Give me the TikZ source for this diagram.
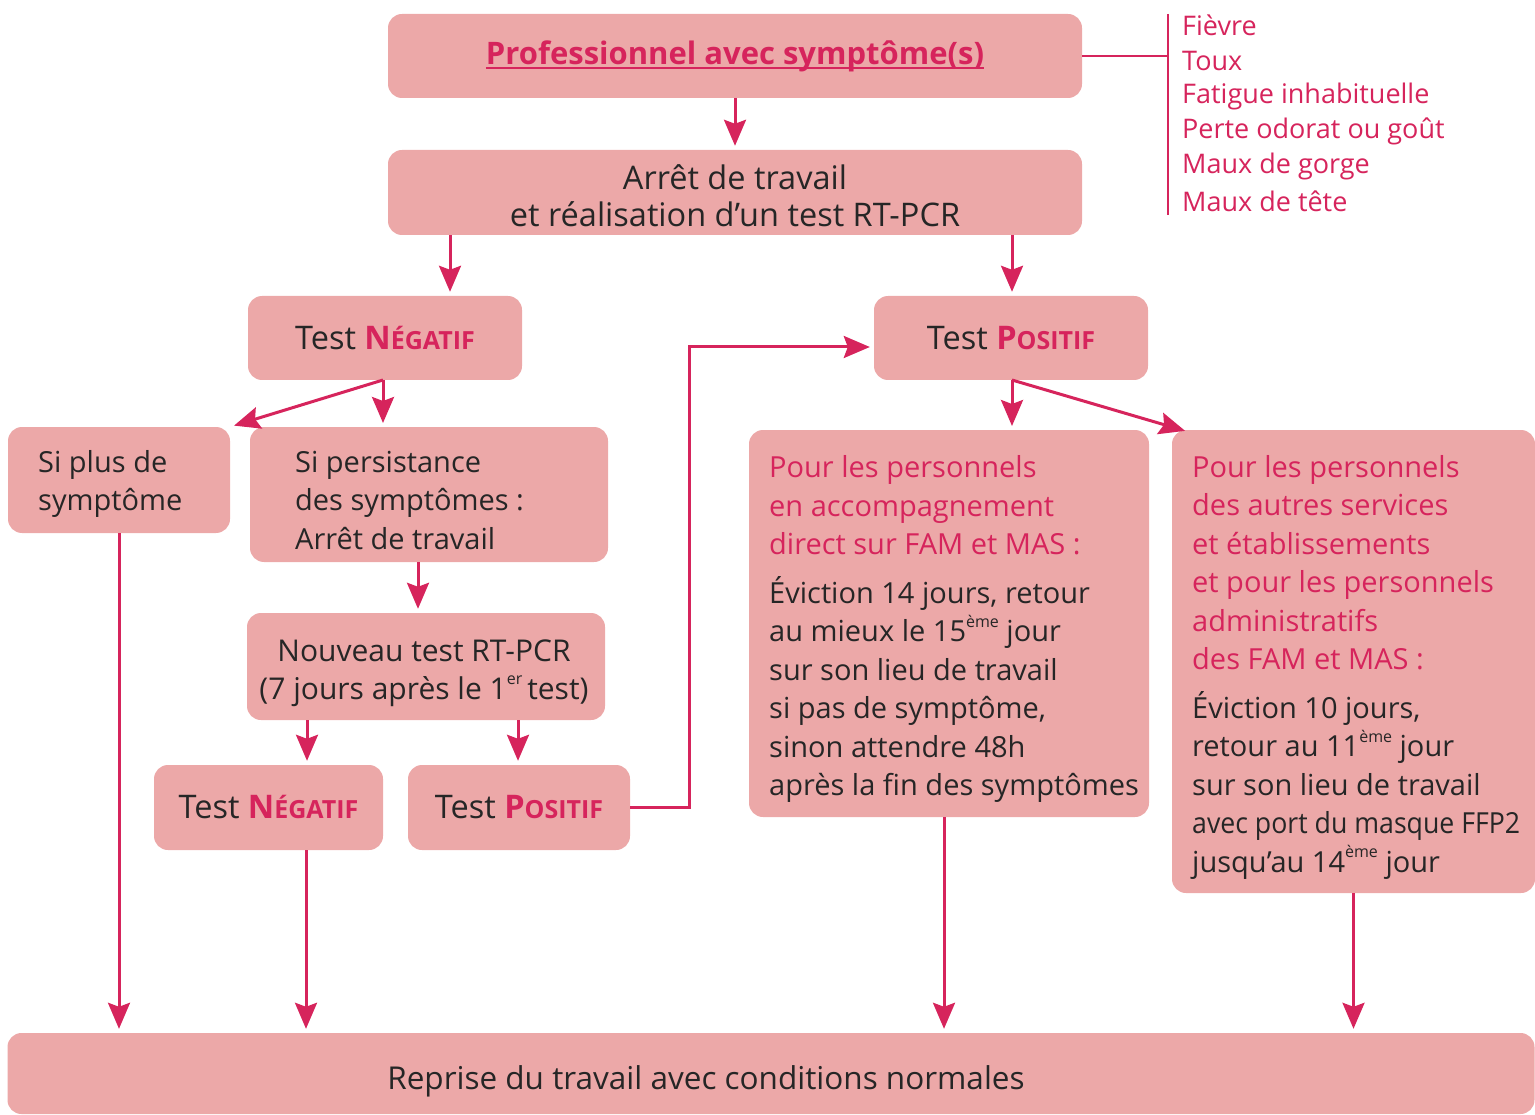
\documentclass[tikz,border=0pt]{standalone}
\usepackage{fontspec}
\setmainfont{Open Sans}
\usetikzlibrary{arrows.meta}
\definecolor{boxpink}{HTML}{ECA8A8}
\definecolor{mag}{HTML}{D6245C}
\definecolor{ink}{HTML}{262626}
\newcommand{\pk}[1]{\textcolor{mag}{#1}}
\newcommand{\supx}[1]{\raisebox{0.5em}{\fontsize{16}{16}\selectfont #1}}
\newcommand{\fakesc}[2]{\textcolor{mag}{\bfseries #1{\fontsize{25}{25}\selectfont #2}}}
\newcommand{\ulx}[1]{\setbox0\hbox{#1}\rlap{\textcolor{mag}{\rule[-5pt]{\wd0}{2pt}}}\box0}
\begin{document}
\begin{tikzpicture}[x=1pt,y=-1pt,
  box/.style={fill=boxpink, rounded corners=14pt, inner sep=0pt, text=ink, align=center,
    font=\fontsize{29}{38.5}\selectfont},
  txt/.style={inner sep=0pt, align=left, text=ink, font=\fontsize{29}{38.5}\selectfont},
  ctxt/.style={inner sep=0pt, align=center, text=ink, font=\fontsize{29}{38.5}\selectfont},
  testbox/.style={box, font=\fontsize{32.5}{38}\selectfont},
  arr/.style={draw=mag, line width=3pt, shorten >=4pt, -{Stealth[length=26pt,width=22pt,inset=4pt]}},
  ln/.style={draw=mag, line width=3pt},
  sym/.style={inner sep=0pt, anchor=west, text=mag, font=\fontsize{27}{27}\selectfont}]
\useasboundingbox (0,0) rectangle (1535,1115);

% boxes
\node[box, minimum width=694pt, minimum height=84pt, text=mag,
  font=\fontsize{31}{38}\selectfont\bfseries] (prof) at (735,56) {\ulx{Professionnel avec symptôme(s)}};
\node[box, minimum width=694pt, minimum height=85pt] (arret) at (735,192.5) {};
\node[ctxt, font=\fontsize{32.5}{37}\selectfont] (arretT) at (735,196)
  {Arrêt de travail\\et réalisation d’un test RT-PCR};
\node[testbox, minimum width=274pt, minimum height=84pt] (neg1) at (385,338)
  {Test \fakesc{N}{ÉGATIF}};
\node[testbox, minimum width=274pt, minimum height=84pt] (pos1) at (1011,338)
  {Test \fakesc{P}{OSITIF}};
\node[box, minimum width=222pt, minimum height=106pt] (siplus) at (119,480) {};
\node[txt, anchor=west] (siplusT) at (38,484) {Si plus de\\symptôme};
\node[box, minimum width=358pt, minimum height=135pt] (sipers) at (429,494.5) {};
\node[txt, anchor=west] (sipersT) at (295,500) {Si persistance\\des symptômes :\\Arrêt de travail};
\node[box, minimum width=358pt, minimum height=107pt] (nouv) at (426,666.5) {};
\node[ctxt, font=\fontsize{30}{38}\selectfont] (nouvT) at (424,673)
  {Nouveau test RT-PCR\\(7 jours après le 1\supx{er}\,test)};
\node[testbox, minimum width=229pt, minimum height=85pt] (neg2) at (268.5,807.5)
  {Test \fakesc{N}{ÉGATIF}};
\node[testbox, minimum width=222pt, minimum height=85pt] (pos2) at (519,807.5)
  {Test \fakesc{P}{OSITIF}};
\node[box, minimum width=400pt, minimum height=387pt] (fam) at (949,623.5) {};
\node[txt, anchor=west] (famT) at (769,629)
  {\pk{Pour les personnels}\\\pk{en accompagnement}\\\pk{direct sur FAM et MAS :}\\[10pt]
   Éviction 14 jours, retour\\au mieux le 15\supx{ème} jour\\sur son lieu de travail\\
   si pas de symptôme,\\sinon attendre 48h\\après la fin des symptômes};
\node[box, minimum width=363pt, minimum height=463pt] (autres) at (1353.5,661.5) {};
\node[txt, anchor=west] (autresT) at (1192,667)
  {\pk{Pour les personnels}\\\pk{des autres services}\\\pk{et établissements}\\
   \pk{et pour les personnels}\\\pk{administratifs}\\\pk{des FAM et MAS :}\\[10pt]
   Éviction 10 jours,\\retour au 11\supx{ème} jour\\sur son lieu de travail\\
   \resizebox{328pt}{\height}{avec port du masque FFP2}\\jusqu’au 14\supx{ème} jour};
\node[box, minimum width=1527pt, minimum height=81pt] (reprise) at (771,1073.5) {};
\node[ctxt, font=\fontsize{31.5}{38}\selectfont] (repriseT) at (706,1081) {Reprise du travail avec conditions normales};

% symptom list
\coordinate (bartop) at (1168,14);
\coordinate (barbot) at (1168,215);
\draw[ln, line width=1.6pt] (bartop) -- (barbot);
\draw[ln, line width=1.6pt] (prof.east) -- (prof.east -| bartop);
\node[sym] (s1) at (1182,25) {Fièvre};
\node[sym] (s2) at (1182,61) {Toux};
\node[sym] (s3) at (1182,96) {Fatigue inhabituelle};
\node[sym] (s4) at (1182,131) {Perte odorat ou goût};
\node[sym] (s5) at (1182,166) {Maux de gorge};
\node[sym] (s6) at (1182,201) {Maux de tête};

% connectors
\draw[arr] (prof.south) -- (arret.north);
\draw[arr] (arret.south -| 450,0) -- (neg1.north -| 450,0);
\draw[arr] (arret.south -| 1012,0) -- (pos1.north -| 1012,0);
\coordinate (nb) at (383,380);
\draw[arr] (nb) -- (383,427);
\draw[arr] (nb) -- (siplus.north east);
\coordinate (pb) at (1012,380);
\draw[arr] (pb) -- (1012,430);
\draw[arr] (pb) -- (1189,432);
\draw[arr] (sipers.south -| 418,0) -- (nouv.north -| 418,0);
\draw[arr] (nouv.south -| 307,0) -- (neg2.north -| 307,0);
\draw[arr] (nouv.south -| 518,0) -- (pos2.north -| 518,0);
\draw[arr] (pos2.east) -- (689,807.5) -- (689,347) -- (pos1.west |- 0,347);
\draw[arr] (siplus.south) -- (reprise.north -| siplus.south);
\draw[arr] (neg2.south -| 306,0) -- (reprise.north -| 306,0);
\draw[arr] (fam.south -| 944,0) -- (reprise.north -| 944,0);
\draw[arr] (autres.south) -- (reprise.north -| autres.south);
\end{tikzpicture}
\end{document}
